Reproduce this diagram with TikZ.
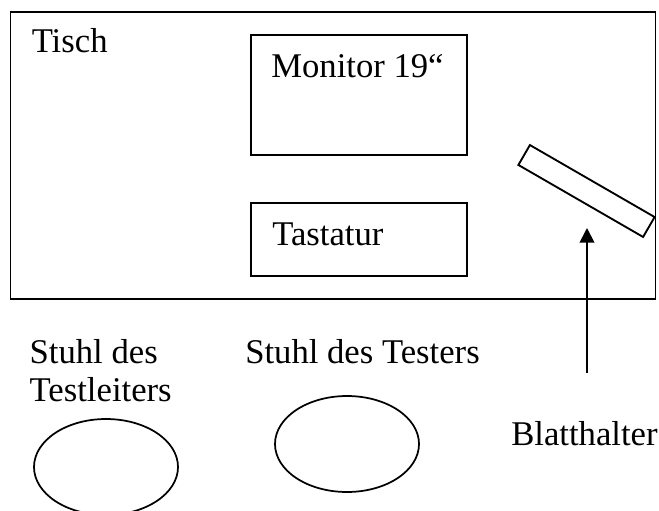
\documentclass[tikz,border=0pt]{standalone}
\usepackage{fontspec}
\setmainfont{Liberation Serif}
\usetikzlibrary{arrows.meta,shapes.geometric}

\tikzset{
  outline/.style={draw, line width=1.4pt, inner sep=0pt},
  seat/.style={draw, ellipse, line width=1.3pt, inner sep=0pt,
    minimum width=108pt, minimum height=72pt},
  caption/.style={anchor=base west, inner sep=0pt, align=left,
    font=\fontsize{26}{29}\selectfont},
}

\begin{document}
\begin{tikzpicture}[x=0.75pt,y=0.75pt,yscale=-1,xscale=1]
\useasboundingbox (0,0) rectangle (659,510);

%Table and what stands on it
\node[outline, minimum width=483.75pt, minimum height=215.5pt] (tisch) at (333,155.3) {};
\node[outline, minimum width=161.7pt, minimum height=90pt] (monitor) at (358.8,95) {};
\node[outline, minimum width=161.7pt, minimum height=54.75pt] (tastatur) at (358.8,239.5) {};
\node[outline, minimum width=108pt, minimum height=17.25pt, rotate=-30] (halter) at (586.5,191) {};

%Chairs
\node[seat] (leiter) at (106,467) {};
\node[seat] (tester) at (347,444) {};

% Text Node
\node[caption] (tischtext) at (31.5,53) {Tisch};
% Text Node
\node[caption] (monitortext) at (271,77) {Monitor 19“};
% Text Node
\node[caption] (tastaturtext) at (272,245) {Tastatur};
% Text Node (base is the last line here)
\node[caption] (leitertext) at (29.4,401.7) {Stuhl des\\Testleiters};
% Text Node
\node[caption] (testertext) at (245,363) {Stuhl des Testers};
% Text Node
\node[caption] (haltertext) at (511,445) {Blatthalter};

%Pointer to the sheet holder
\coordinate (zeiger) at (587,373);
\coordinate (spitze) at (587,228);
\draw[line width=1.4pt, -{Triangle[length=11pt,width=11pt]}] (zeiger) -- (spitze);

\end{tikzpicture}
\end{document}
